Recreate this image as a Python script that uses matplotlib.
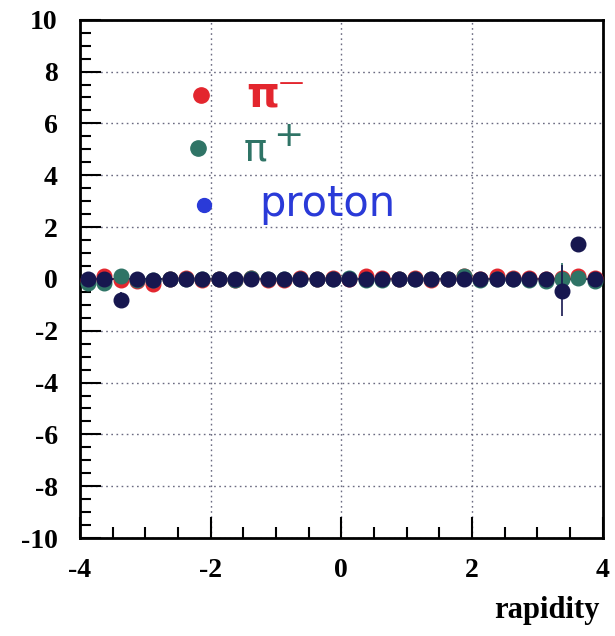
import matplotlib.pyplot as plt
import numpy as np
from matplotlib.ticker import MultipleLocator

plt.rcParams['font.family'] = ['Liberation Serif', 'DejaVu Serif']
plt.rcParams['axes.unicode_minus'] = False

# rapidity bin centres (32 bins of 0.25 from -4 to 4)
rapidity = [-3.875, -3.625, -3.375, -3.125, -2.875, -2.625, -2.375, -2.125,
            -1.875, -1.625, -1.375, -1.125, -0.875, -0.625, -0.375, -0.125,
            0.125, 0.375, 0.625, 0.875, 1.125, 1.375, 1.625, 1.875,
            2.125, 2.375, 2.625, 2.875, 3.125, 3.375, 3.625, 3.875]

pim = [-0.05, 0.10, -0.05, -0.10, -0.20, 0.00, 0.05, -0.05,
       0.00, -0.05, 0.05, -0.05, -0.05, 0.05, 0.00, 0.05,
       0.00, 0.10, 0.05, 0.00, 0.05, -0.05, 0.00, 0.10,
       0.00, 0.10, 0.05, 0.05, 0.00, 0.05, 0.10, 0.05]
pip = [-0.15, -0.15, 0.10, -0.05, -0.05, 0.00, 0.00, 0.00,
       0.00, -0.05, 0.05, 0.00, 0.00, 0.00, 0.00, 0.00,
       0.05, -0.05, -0.05, 0.00, 0.00, 0.00, 0.00, 0.10,
       -0.05, 0.00, 0.00, -0.05, -0.10, 0.00, 0.05, -0.10]
prot = [0.00, 0.00, -0.80, 0.00, -0.05, 0.00, 0.00, 0.00,
        0.00, 0.00, 0.00, 0.00, 0.00, 0.00, 0.00, 0.00,
        0.00, 0.00, 0.00, 0.00, 0.00, 0.00, 0.00, 0.00,
        0.00, 0.00, 0.00, 0.00, 0.00, -0.45, 1.35, 0.00]
prot_err = [0.05, 0.05, 0.30, 0.05, 0.05, 0.05, 0.05, 0.05,
            0.05, 0.05, 0.05, 0.05, 0.05, 0.05, 0.05, 0.05,
            0.05, 0.05, 0.05, 0.05, 0.05, 0.05, 0.05, 0.05,
            0.05, 0.05, 0.05, 0.05, 0.05, 1.00, 0.20, 0.05]
pip_err = [0.05] * 29 + [0.60, 0.10, 0.05]

c_pim = '#e3262e'
c_pip = '#2f7466'
c_prot = '#17174f'
c_pen = '#2a3ad8'

fig = plt.figure(figsize=(6.15, 6.36), dpi=100)
ax = fig.add_axes([0.130, 0.154, 0.850, 0.815])

ax.plot(rapidity, pim, 'o', color=c_pim, markersize=10.5, zorder=3)
ax.errorbar(rapidity, pip, yerr=pip_err, fmt='o', color=c_pip, markersize=10.5,
            elinewidth=1.2, capsize=0, zorder=4)
ax.errorbar(rapidity, prot, yerr=prot_err, xerr=0.06, fmt='o', color=c_prot,
            markersize=10.5, elinewidth=1.2, capsize=0, zorder=5)
ax.axhline(0, color=c_prot, lw=1.5, zorder=2)

# hand-drawn legend
ax.plot([-2.15], [7.1], 'o', color=c_pim, markersize=11)
ax.plot([-2.2], [5.05], 'o', color=c_pip, markersize=11)
ax.plot([-2.1], [2.85], 'o', color=c_pen, markersize=10)
ax.text(-1.45, 7.1, 'π', color=c_pim, fontsize=30, fontweight='bold',
        family='DejaVu Sans', va='center')
ax.text(-0.95, 7.55, '—', color=c_pim, fontsize=18, family='DejaVu Sans', va='center')
ax.text(-1.5, 5.0, 'π', color=c_pip, fontsize=28, family='DejaVu Sans', va='center')
ax.text(-1.05, 5.5, '+', color=c_pip, fontsize=26, family='DejaVu Sans', va='center')
ax.text(-1.25, 2.9, 'proton', color=c_pen, fontsize=30, family='DejaVu Sans',
        va='center')

ax.set_xlim(-4, 4)
ax.set_ylim(-10, 10)
ax.xaxis.set_major_locator(MultipleLocator(2))
ax.xaxis.set_minor_locator(MultipleLocator(0.5))
ax.yaxis.set_major_locator(MultipleLocator(2))
ax.yaxis.set_minor_locator(MultipleLocator(0.5))
ax.tick_params(which='both', direction='in', top=False, right=False, width=1.5)
ax.tick_params(which='major', length=15)
ax.tick_params(which='minor', length=8)
ax.tick_params(axis='x', pad=14)
ax.tick_params(axis='y', pad=16)
for lab in ax.get_xticklabels() + ax.get_yticklabels():
    lab.set_fontsize(20)
    lab.set_fontweight('bold')
ax.grid(True, which='major', color='#6a6a80', linestyle=(0, (1.2, 2.5)), linewidth=1)
for s in ax.spines.values():
    s.set_linewidth(2)

fig.text(0.975, 0.04, 'rapidity', ha='right', va='center', fontsize=22,
         fontweight='bold')

plt.savefig('out.png', dpi=100, facecolor='white')
